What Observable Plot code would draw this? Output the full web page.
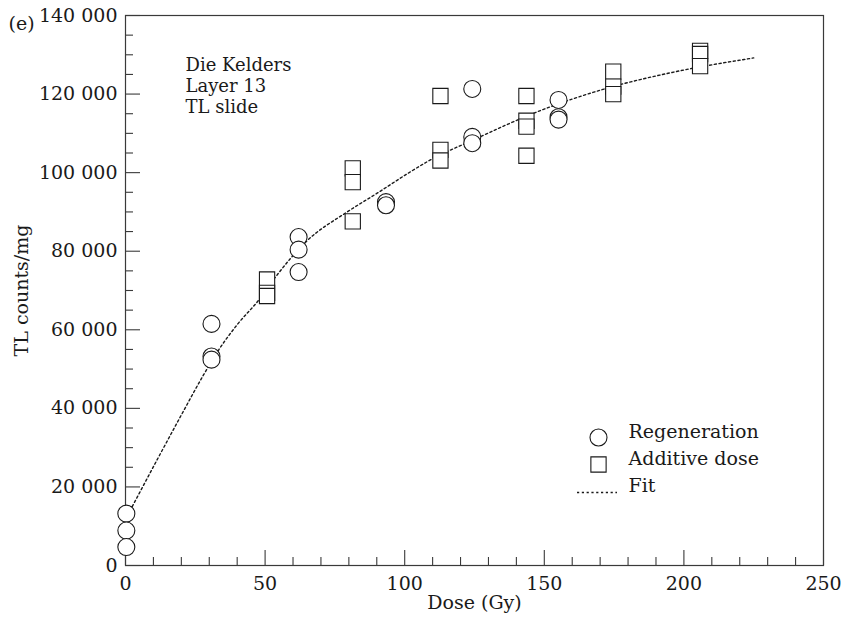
<!DOCTYPE html>
<html>
<head>
<meta charset="utf-8">
<script src="https://cdn.jsdelivr.net/npm/d3@7"></script>
<script src="https://cdn.jsdelivr.net/npm/@observablehq/plot@0.6"></script>
<style>
html, body { margin: 0; padding: 0; background: #fff; overflow: hidden; }
</style>
</head>
<body>
<div id="chart"></div>
<script>
// Regeneration (circles)
const regenDose = [0.3, 0.3, 0.3, 30.8, 30.8, 30.8, 62, 62, 62, 93.3, 93.3, 124.2, 124.2, 124.2, 155.1, 155.1, 155.1];
const regenTL   = [13200, 8900, 4700, 61500, 53200, 52400, 83600, 80400, 74700, 92500, 91700, 121300, 109100, 107500, 118500, 114100, 113500];

// Additive dose (squares)
const addDose = [50.7, 50.7, 50.7, 81.4, 81.4, 81.4, 112.8, 112.8, 112.8, 143.6, 143.6, 143.6, 143.6, 174.7, 174.7, 174.7, 205.8, 205.8, 205.8];
const addTL   = [72800, 69400, 68600, 101100, 97600, 87600, 119500, 105800, 103100, 119500, 113200, 111700, 104300, 125700, 121900, 120000, 131000, 130200, 127100];

// Fit curve
const fitDose = [2.4, 12, 20.3, 28.1, 33.4, 40, 48, 53.7, 64.5, 79.4, 90, 100.9, 108.1, 124.8, 148.6, 172.5, 196.4, 225];
const fitTL   = [15000, 27800, 38700, 48700, 54900, 61300, 67800, 73400, 82300, 90000, 94700, 99700, 102800, 108400, 115800, 121500, 125600, 129200];

// Ticks
const xMajor = [0, 50, 100, 150, 200, 250];
const xMajorLabels = ["0", "50", "100", "150", "200", "250"];
const xMinor = [10, 20, 30, 40, 60, 70, 80, 90, 110, 120, 130, 140, 160, 170, 180, 190, 210, 220, 230, 240];
const yMajor = [0, 20000, 40000, 60000, 80000, 100000, 120000, 140000];
const yMajorLabels = ["0", "20 000", "40 000", "60 000", "80 000", "100 000", "120 000", "140 000"];
const yMinor = [5000, 10000, 15000, 25000, 30000, 35000, 45000, 50000, 55000, 65000, 70000, 75000, 85000, 90000, 95000, 105000, 110000, 115000, 125000, 130000, 135000];

const seriesNames = ["Regeneration", "Additive dose", "Fit"];
const panelLabel = "(e)";
const annotation = "Die Kelders\nLayer 13\nTL slide";
const xTitle = "Dose (Gy)";
const yTitle = "TL counts/mg";

const regen = regenDose.map((d, i) => ({dose: d, tl: regenTL[i]}));
const additive = addDose.map((d, i) => ({dose: d, tl: addTL[i]}));
const fit = fitDose.map((d, i) => ({dose: d, tl: fitTL[i]}));

const ink = "#1a1a1a";
const axisInk = "#3a3a3a";
const fs = 19;

const chart = Plot.plot({
  width: 842,
  height: 625,
  marginLeft: 125,
  marginRight: 19,
  marginTop: 15,
  marginBottom: 60,
  style: {fontFamily: "'DejaVu Serif', serif", fontSize: fs + "px", background: "#fff", color: ink},
  x: {domain: [0, 250], label: null},
  y: {domain: [0, 140000], label: null},
  marks: [
    Plot.frame({stroke: axisInk, strokeWidth: 1.2}),
    Plot.tickX(xMinor, {x: d => d, insetTop: 542, stroke: axisInk, strokeWidth: 1.1}),
    Plot.tickX(xMajor, {x: d => d, insetTop: 535, stroke: axisInk, strokeWidth: 1.1}),
    Plot.tickY(yMinor, {y: d => d, insetRight: 690, stroke: axisInk, strokeWidth: 1.1}),
    Plot.tickY(yMajor, {y: d => d, insetRight: 683, stroke: axisInk, strokeWidth: 1.1}),
    Plot.axisX(xMajor, {tickSize: 0, tickPadding: 11, label: null, fontSize: fs, tickFormat: d => xMajorLabels[xMajor.indexOf(d)]}),
    Plot.axisY(yMajor, {tickSize: 0, tickPadding: 8, label: null, fontSize: fs, tickFormat: d => yMajorLabels[yMajor.indexOf(d)]}),
    Plot.line(fit, {x: "dose", y: "tl", curve: "monotone-x", stroke: ink, strokeWidth: 1.4, strokeDasharray: "2.2,2.6"}),
    Plot.dot(regen, {x: "dose", y: "tl", r: 8.5, symbol: "circle", fill: "white", stroke: ink, strokeWidth: 1.1}),
    Plot.dot(additive, {x: "dose", y: "tl", r: 8.6, symbol: "square", fill: "white", stroke: ink, strokeWidth: 1.1}),
    // panel label and annotation
    Plot.text([panelLabel], {text: d => d, fontSize: fs, frameAnchor: "top-left", dx: -117, dy: 1, textAnchor: "start"}),
    Plot.text([annotation], {text: d => d, fontSize: 18, frameAnchor: "top-left", dx: 60, dy: 40.5, textAnchor: "start", lineAnchor: "top", lineHeight: 1.17}),
    // axis titles
    Plot.text([xTitle], {text: d => d, fontSize: fs, frameAnchor: "bottom", dy: 43}),
    Plot.text([yTitle], {text: d => d, fontSize: fs, frameAnchor: "left", dx: -104, rotate: -90, textAnchor: "middle"}),
    // legend
    Plot.dot([seriesNames[0]], {frameAnchor: "bottom-right", dx: -225, dy: -128, r: 8.5, symbol: "circle", fill: "white", stroke: ink, strokeWidth: 1.1}),
    Plot.dot([seriesNames[1]], {frameAnchor: "bottom-right", dx: -225, dy: -101, r: 8.6, symbol: "square", fill: "white", stroke: ink, strokeWidth: 1.1}),
    Plot.ruleY([0], {dy: -73, insetLeft: 452, insetRight: 206, stroke: ink, strokeWidth: 1.4, strokeDasharray: "2.2,2.6"}),
    Plot.text([seriesNames[0]], {text: d => d, fontSize: fs, frameAnchor: "bottom-right", dx: -195, dy: -128, textAnchor: "start"}),
    Plot.text([seriesNames[1]], {text: d => d, fontSize: fs, frameAnchor: "bottom-right", dx: -195, dy: -101, textAnchor: "start"}),
    Plot.text([seriesNames[2]], {text: d => d, fontSize: fs, frameAnchor: "bottom-right", dx: -195, dy: -74, textAnchor: "start"})
  ]
});
document.getElementById("chart").appendChild(chart);
</script>
</body>
</html>
